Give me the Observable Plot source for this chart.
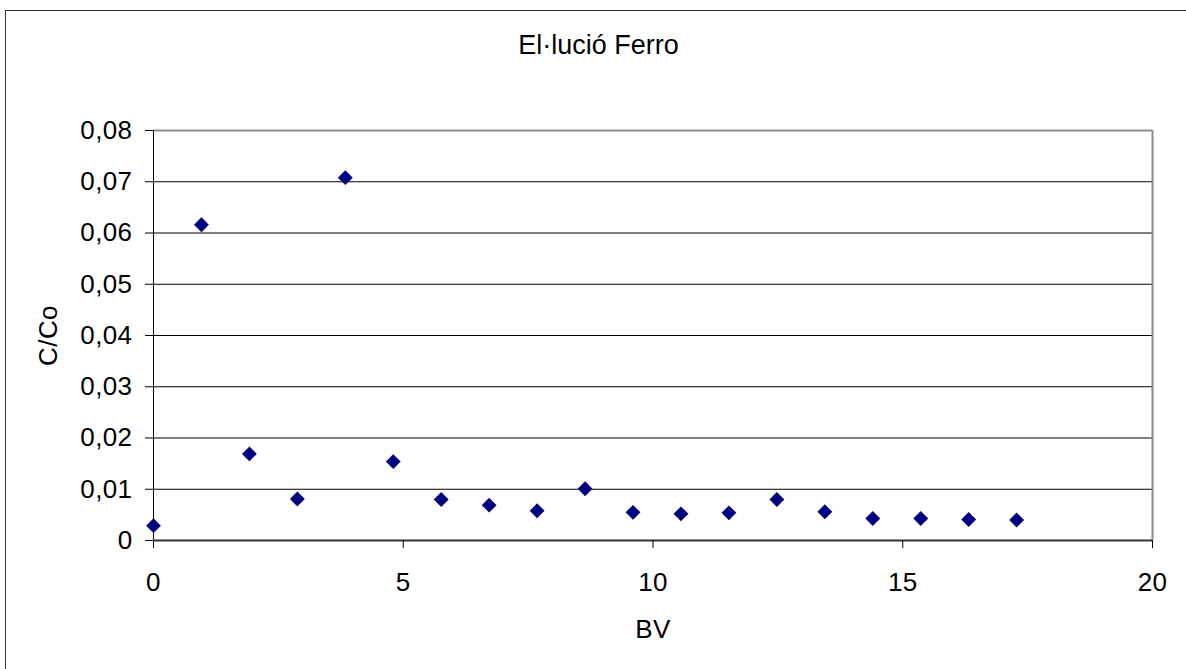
<!DOCTYPE html>
<html>
<head>
<meta charset="utf-8">
<script src="https://cdn.jsdelivr.net/npm/d3@7"></script>
<script src="https://cdn.jsdelivr.net/npm/@observablehq/plot@0.6"></script>
<style>
  html, body { margin: 0; padding: 0; background: #fff; overflow: hidden; }
  #wrap { position: relative; width: 1186px; height: 669px; overflow: hidden; font-family: "Liberation Sans", Arial, sans-serif; }
  #border { position: absolute; left: 5px; top: 10px; width: 1300px; height: 800px; border-left: 1.5px solid #333; border-top: 1.5px solid #333; box-sizing: border-box; }
  #title { position: absolute; left: 0; top: 32px; width: 1197px; text-align: center; font-size: 27px; color: #000; line-height: 1; }
  #chart { position: absolute; left: 0; top: 0; }
</style>
</head>
<body>
<div id="wrap">
  <div id="border"></div>
  <div id="chart"></div>
  <div id="title"></div>
</div>
<script>
// Data
const bv = [0, 0.96, 1.92, 2.88, 3.84, 4.80, 5.76, 6.72, 7.68, 8.64, 9.60, 10.56, 11.52, 12.48, 13.44, 14.40, 15.36, 16.32, 17.28];
const cCo = [0.0029, 0.0616, 0.0169, 0.0081, 0.0708, 0.0154, 0.0080, 0.0069, 0.0058, 0.0101, 0.0055, 0.0052, 0.0054, 0.0080, 0.0056, 0.0043, 0.0043, 0.0041, 0.0040];
const xTicks = [0, 5, 10, 15, 20];
const yTicks = [0, 0.01, 0.02, 0.03, 0.04, 0.05, 0.06, 0.07, 0.08];
const gridY = [0.01, 0.02, 0.03, 0.04, 0.05, 0.06, 0.07];
const titleText = "El·lució Ferro";
const xLabel = "BV";
const yLabel = "C/Co";

const data = bv.map((x, i) => ({bv: x, c: cCo[i]}));
const fmtY = d => d === 0 ? "0" : d.toFixed(2).replace(".", ",");

const chart = Plot.plot({
  width: 1186,
  height: 669,
  marginLeft: 153,
  marginRight: 34,
  marginTop: 130,
  marginBottom: 129,
  style: {fontFamily: "'Liberation Sans', Arial, sans-serif", fontSize: "26px", background: "transparent", color: "#000", overflow: "visible", letterSpacing: "0.4px"},
  x: {domain: [0, 20]},
  y: {domain: [0, 0.08]},
  marks: [
    Plot.ruleY(gridY, {stroke: "#000", strokeWidth: 1}),
    Plot.ruleY([0.08], {stroke: "#8c8c8c", strokeWidth: 2}),
    Plot.ruleX([20], {stroke: "#8c8c8c", strokeWidth: 2}),
    Plot.ruleX([0], {stroke: "#000", strokeWidth: 1}),
    Plot.ruleY([0], {stroke: "#333", strokeWidth: 2}),
    Plot.axisX({ticks: xTicks, tickSize: 8, tickPadding: 24, stroke: "#000", fontSize: 26,
      label: xLabel, labelAnchor: "center", labelArrow: "none", labelOffset: 97}),
    Plot.axisY({ticks: yTicks, tickSize: 8, tickPadding: 13, tickFormat: fmtY, stroke: "#000", fontSize: 26,
      label: yLabel, labelAnchor: "center", labelArrow: "none", labelOffset: 115}),
    Plot.dot(data, {x: "bv", y: "c", symbol: "diamond2", r: 6.7, fill: "#000080", stroke: "none"})
  ]
});
document.getElementById("chart").appendChild(chart);
document.getElementById("title").textContent = titleText;
</script>
</body>
</html>
